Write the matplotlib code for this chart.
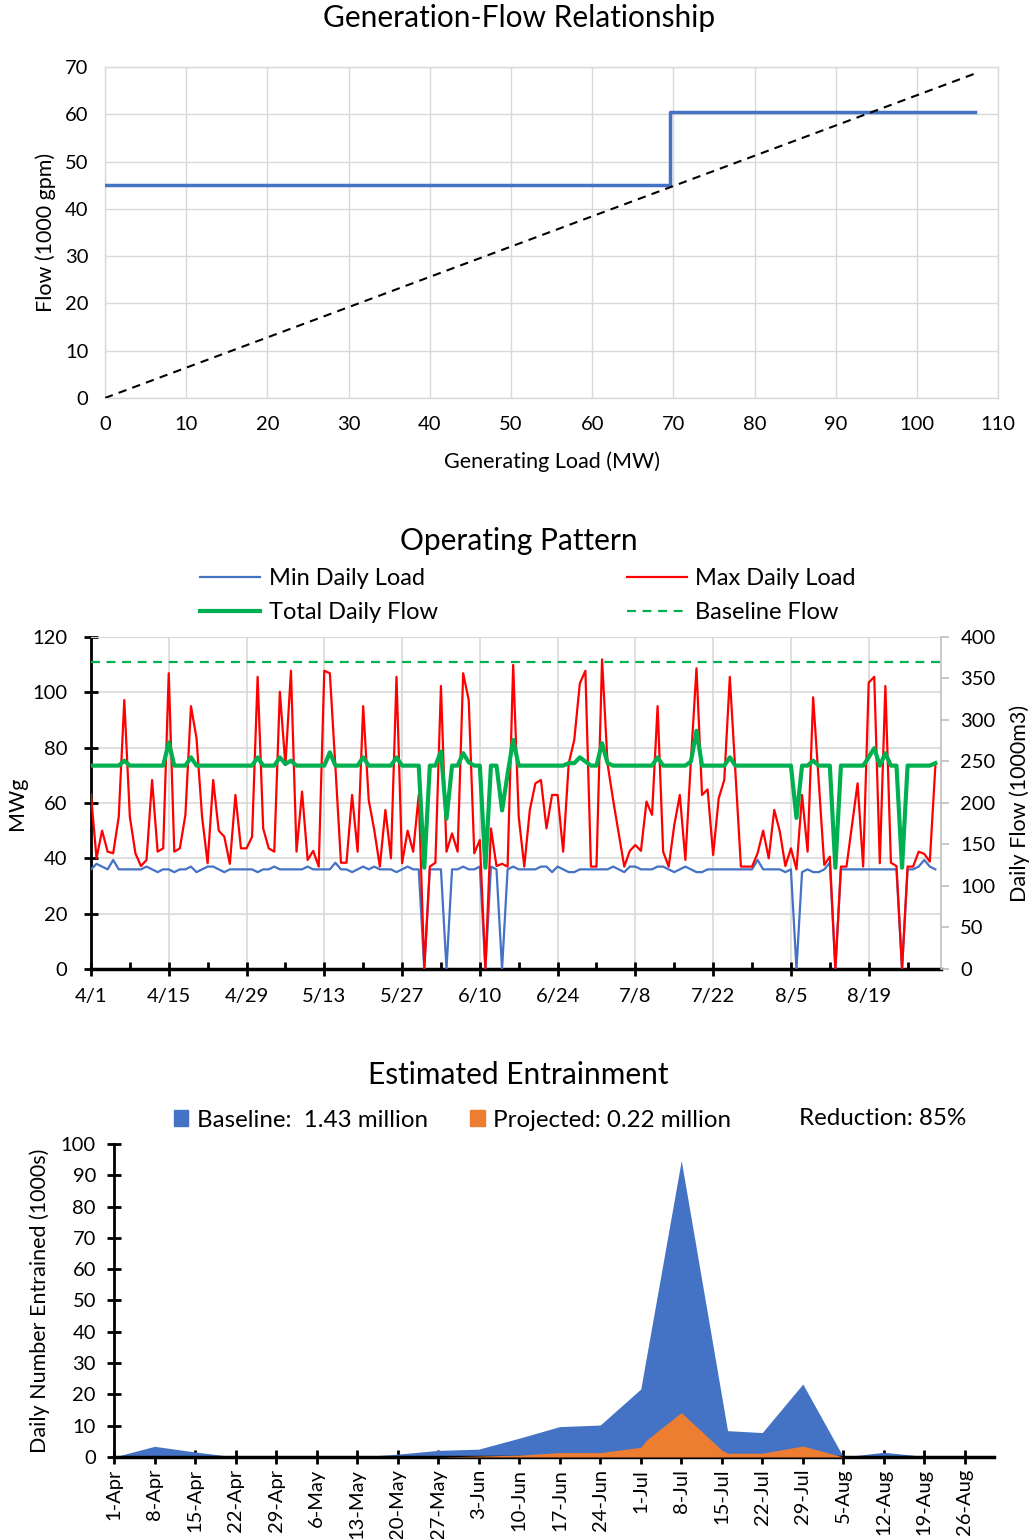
import numpy as np
import pandas as pd
import matplotlib
matplotlib.use('Agg')
import matplotlib.pyplot as plt
from matplotlib.patches import Patch

plt.rcParams['font.family'] = ['Lato', 'DejaVu Sans']

# ---- chart 1: generation-flow relationship
step_load = [0, 69.6, 69.6, 107.2]
step_flow = [45, 45, 60.5, 60.5]
base_load = [0, 107]
base_flow = [0, 68.5]

# ---- chart 2: operating pattern (daily, from 4/1)
max_load = [63, 40, 50, 42.4, 41.8, 55, 97.2, 55, 41.8, 37.2,
            39.4, 68.3, 42.4, 43.6, 106.9, 42.4, 43.6, 55.7, 95, 83.4,
            55, 38.2, 68.3, 50, 47.8, 38, 62.9, 43.6, 43.6, 47.8,
            105.6, 50.8, 43.6, 42.4, 100.2, 73.7, 107.8, 42.4, 64.1, 39.4,
            42.7, 37, 107.8, 106.9, 73.1, 38.4, 38.4, 62.9, 42.4, 95,
            61, 50.2, 37, 57.5, 40, 105.6, 38.2, 50, 42.4, 62.9,
            0, 37, 38.4, 102.3, 42.4, 49, 42.4, 106.9, 97.2, 41.8,
            46.6, 0, 50.8, 37.2, 38, 37, 109.9, 55, 37, 57.5,
            67.1, 68.3, 50.8, 62.9, 62.9, 42.4, 74.3, 82.8, 103.2, 107.8,
            37, 37, 111.9, 74, 61, 49, 37, 42.7, 44.8, 42.7,
            60.5, 55.7, 95, 42.4, 37, 52, 62.9, 39.4, 75.5, 108.7,
            62.9, 64.9, 41.2, 61.7, 68.3, 105.6, 71, 37, 37, 37,
            41.8, 50, 40, 57.5, 49.7, 37.2, 43.6, 36, 62.9, 42.4,
            98.2, 68, 37.6, 40.6, 0, 37, 37, 52, 67.1, 37,
            103.5, 105.6, 38.2, 102.3, 38.4, 37.2, 0, 37, 37, 42.4,
            41.6, 38.8, 73.4]
min_load = [36, 38, 37, 36, 39.4, 36, 36, 36, 36, 36,
            37, 36, 35, 36, 36, 35, 36, 36, 37, 35,
            36, 37, 37, 36, 35, 36, 36, 36, 36, 36,
            35, 36, 36, 37, 36, 36, 36, 36, 36, 37,
            36, 36, 36, 36, 38.4, 36, 36, 35, 36, 37,
            36, 37, 36, 36, 36, 35, 36, 37, 36, 36,
            0, 36, 36, 36, 0, 36, 36, 37, 36, 36,
            37, 0, 37, 36, 0, 36, 37, 36, 36, 36,
            36, 37, 37, 35, 37, 36, 35, 35, 36, 36,
            36, 36, 36, 36, 37, 36, 35, 37, 37, 36,
            36, 36, 37, 37, 36, 35, 36, 37, 36, 35,
            35, 36, 36, 36, 36, 36, 36, 36, 36, 36,
            39.4, 36, 36, 36, 36, 35, 36, 0, 35, 36,
            35, 35, 36, 38.4, 0, 36, 36, 36, 36, 36,
            36, 36, 36, 36, 36, 36, 0, 36, 36, 37,
            39.4, 37, 36]
total_flow = [245, 245, 245, 245, 245, 245, 251, 245, 245, 245,
              245, 245, 245, 245, 273, 245, 245, 245, 255, 245,
              245, 245, 245, 245, 245, 245, 245, 245, 245, 245,
              255, 245, 245, 245, 255, 247, 251, 245, 245, 245,
              245, 245, 245, 261, 245, 245, 245, 245, 245, 255,
              245, 245, 245, 245, 245, 255, 245, 245, 245, 245,
              122, 245, 245, 262, 181, 245, 245, 260, 249, 245,
              245, 122, 245, 245, 191, 235, 276, 245, 245, 245,
              245, 245, 245, 245, 245, 245, 248, 248, 255, 250,
              245, 245, 272, 248, 245, 245, 245, 245, 245, 245,
              245, 245, 255, 245, 245, 245, 245, 245, 250, 287,
              245, 245, 245, 245, 245, 255, 245, 245, 245, 245,
              245, 245, 245, 245, 245, 245, 245, 182, 245, 245,
              251, 245, 245, 245, 122, 245, 245, 245, 245, 245,
              255, 266, 245, 260, 245, 245, 122, 245, 245, 245,
              245, 245, 248]
baseline_flow = 370
day_ticks = ['4/1', '4/15', '4/29', '5/13', '5/27', '6/10', '6/24',
             '7/8', '7/22', '8/5', '8/19']

# ---- chart 3: estimated entrainment
ent_dates = ['04-01', '04-08', '04-15', '04-22', '04-29', '05-06', '05-13',
             '05-20', '05-27', '06-03', '06-10', '06-17', '06-24', '07-01',
             '07-02', '07-08', '07-15', '07-16', '07-22', '07-29', '08-05',
             '08-12', '08-19', '08-26']
ent_baseline = [0, 3.4, 1.6, 0, 0, 0, 0,
                0.9, 2.1, 2.5, 6.0, 9.7, 10.2, 21.7,
                32.1, 94.7, 19.2, 8.4, 7.8, 23.3, 0,
                1.5, 0.2, 0]
ent_projected = [0, 0, 0, 0, 0, 0, 0,
                 0, 0, 0.3, 0.6, 1.4, 1.4, 3.1,
                 5.4, 14.2, 2.2, 1.2, 1.2, 3.5, 0,
                 0, 0, 0]
ent_legend = ['Baseline:  1.43 million', 'Projected: 0.22 million']
ent_reduction = 'Reduction: 85%'

BLUE = '#4472C4'
RED = '#FF0000'
GREEN = '#00B050'
ORANGE = '#ED7D31'
GRID = '#D9D9D9'
TS = 14.5   # tick label size
LS = 15.5   # axis label size
TT = 21.5   # title size

fig = plt.figure(figsize=(10.29, 15.39), dpi=100)
# titles centred on the figure, as in the source workbook
fig.text(0.504, 1 - 18 / 1539, 'Generation-Flow Relationship', ha='center', va='center', fontsize=TT)
fig.text(0.504, 1 - 541 / 1539, 'Operating Pattern', ha='center', va='center', fontsize=TT)
fig.text(0.504, 1 - 1075 / 1539, 'Estimated Entrainment', ha='center', va='center', fontsize=TT)

# ============ chart 1
ax1 = fig.add_axes([0.102, 0.7414, 0.868, 0.2151])
ax1.plot(step_load, step_flow, color=BLUE, lw=2.5, zorder=3)
ax1.plot(base_load, base_flow, color='black', lw=1.5, ls=(0, (4, 3)), zorder=3)
ax1.set_xlim(0, 110)
ax1.set_ylim(0, 70)
ax1.set_xticks(np.arange(0, 111, 10))
ax1.set_yticks(np.arange(0, 71, 10))
ax1.grid(True, color=GRID, lw=1)
for s in ax1.spines.values():
    s.set_color(GRID)
    s.set_linewidth(1)
ax1.tick_params(length=0, labelsize=TS)
ax1.tick_params(axis='x', pad=13)
ax1.tick_params(axis='y', pad=12)
ax1.set_xlabel('Generating Load (MW)', fontsize=LS, labelpad=13)
ax1.set_ylabel('Flow (1000 gpm)', fontsize=LS, labelpad=6)

# ============ chart 2
days = np.arange(len(max_load))
ax2 = fig.add_axes([0.0884, 0.3704, 0.826, 0.2157])
ax2r = ax2.twinx()
l_min, = ax2.plot(days, min_load, color=BLUE, lw=1.6, zorder=3)
l_max, = ax2.plot(days, max_load, color=RED, lw=1.6, zorder=4)
l_tot, = ax2r.plot(days, total_flow, color=GREEN, lw=3)
l_bas = ax2r.axhline(baseline_flow, color=GREEN, lw=1.6, ls=(0, (4, 3)))
ax2.set_xlim(0, 153)
ax2.set_ylim(0, 120)
ax2r.set_ylim(0, 400)
ax2.set_yticks(np.arange(0, 121, 20))
ax2r.set_yticks(np.arange(0, 401, 50))
ax2.set_xticks(np.arange(0, 141, 14))
ax2.set_xticklabels(day_ticks)
ax2.set_xticks(np.arange(7, 153, 14), minor=True)
ax2.grid(True, which='major', color=GRID, lw=1.2)
ax2.set_axisbelow(True)
ax2.spines['left'].set_color('black')
ax2.spines['left'].set_linewidth(2)
ax2.spines['bottom'].set_color('black')
ax2.spines['bottom'].set_linewidth(2.5)
ax2.spines['top'].set_color(GRID)
ax2.spines['right'].set_visible(False)
for side in ['left', 'bottom', 'top']:
    ax2r.spines[side].set_visible(False)
ax2r.spines['right'].set_color('#BFBFBF')
ax2r.spines['right'].set_linewidth(1.2)
ax2.tick_params(axis='both', which='major', direction='inout', length=10, width=2,
                colors='black', labelsize=TS)
ax2.tick_params(axis='x', which='minor', direction='in', length=5, width=2, colors='black')
ax2.tick_params(axis='x', which='major', pad=9)
ax2.tick_params(axis='y', which='major', pad=12)
ax2r.tick_params(axis='y', direction='out', length=6, width=1.2, colors='#BFBFBF',
                 labelcolor='black', labelsize=TS, pad=8)
ax2.set_ylabel('MWg', fontsize=LS, labelpad=4)
ax2r.set_ylabel('Daily Flow (1000m3)', fontsize=LS, labelpad=10)
ax2.legend([l_min, l_tot, l_max, l_bas],
           ['Min Daily Load', 'Total Daily Flow', 'Max Daily Load', 'Baseline Flow'],
           ncol=2, loc='lower center', bbox_to_anchor=(0.514, 1.0), frameon=False,
           fontsize=17, handlelength=2.55, columnspacing=8.0, labelspacing=0.55,
           handletextpad=0.35, borderaxespad=0.2)

# ============ chart 3
dts = pd.to_datetime(['2020-' + d for d in ent_dates])
ax3 = fig.add_axes([0.1108, 0.0533, 0.855, 0.2034])
ax3.fill_between(dts, 0, ent_baseline, color=BLUE, lw=0, zorder=2)
ax3.fill_between(dts, 0, ent_projected, color=ORANGE, lw=0, zorder=3)
ax3.set_xlim(pd.Timestamp('2020-04-01'), pd.Timestamp('2020-08-31'))
ax3.set_ylim(0, 100)
ax3.set_yticks(np.arange(0, 101, 10))
wk = pd.date_range('2020-04-01', '2020-08-26', freq='7D')
ax3.set_xticks(wk)
ax3.set_xticklabels([f"{d.day}-{d.strftime('%b')}" for d in wk], rotation=90)
for side in ['top', 'right']:
    ax3.spines[side].set_visible(False)
ax3.spines['left'].set_linewidth(2)
ax3.spines['bottom'].set_linewidth(2.5)
ax3.tick_params(axis='both', direction='inout', length=10, width=2, labelsize=TS)
ax3.tick_params(axis='y', pad=8)
ax3.set_ylabel('Daily Number Entrained (1000s)', fontsize=LS, labelpad=8)
ax3.legend([Patch(color=BLUE), Patch(color=ORANGE)], ent_legend,
           ncol=2, loc='lower left', bbox_to_anchor=(0.053, 1.0), frameon=False,
           fontsize=17.4, handlelength=0.6, handleheight=0.6, handletextpad=0.35,
           columnspacing=1.75, borderaxespad=0.15)
ax3.text(0.969, 1.08, ent_reduction, transform=ax3.transAxes, ha='right',
         va='center', fontsize=17.4)

fig.savefig('out.png', dpi=100)
